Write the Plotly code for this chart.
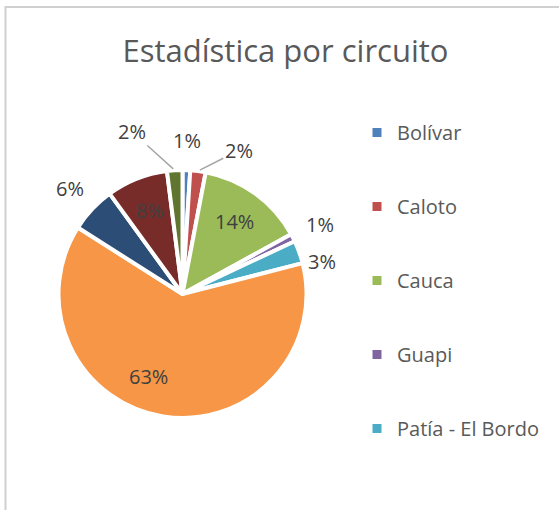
import math
import plotly.graph_objects as go

labels = ["Bolívar", "Caloto", "Cauca", "Guapi", "Patía - El Bordo",
          "Popayán", "Puerto Tejada", "Santander de Quilichao", "Silvia"]
values = [1, 2, 14, 1, 3, 63, 6, 8, 2]
colors = ["#4F81BD", "#C0504D", "#9BBB59", "#8064A2", "#4BACC6",
          "#F79646", "#2C4D75", "#772C2A", "#5F7530"]
label_inside = [False, False, True, False, False, True, False, True, False]
legend_count = 5  # the legend box only shows the first five circuits

# layout / styling (pixel based)
W, H = 559, 510
FONT = "Open Sans"
cx, cy, r = 182.5, 294, 124
inside_factor, outside_factor = 0.72, 1.24
# extra label displacement (pixels) for crowded labels, and which get leader lines
label_nudge = {1: (37, 9), 4: (-5, 20), 5: (-20, -6), 8: (-41, -9)}
leader_lines = {1, 8}

fig = go.Figure()

fig.add_trace(go.Pie(
    labels=labels, values=values, sort=False, direction="clockwise", rotation=0,
    marker=dict(colors=colors, line=dict(color="white", width=4)),
    textinfo="none", showlegend=False, hoverinfo="label+percent",
    domain=dict(x=[(cx - r) / W, (cx + r) / W], y=[(H - cy - r) / H, (H - cy + r) / H]),
))

# data labels positioned from the slice angles
total = sum(values)
cum = 0
annotations = []
for i, v in enumerate(values):
    mid = (cum + v / 2) / total * 2 * math.pi
    cum += v
    f = inside_factor if label_inside[i] else outside_factor
    dx, dy = label_nudge.get(i, (0, 0))
    lx = cx + f * r * math.sin(mid) + dx
    ly = cy - f * r * math.cos(mid) + dy
    txt = f"{round(v / total * 100)}%"
    font = dict(family=FONT, size=20, color="#404040")
    if i in leader_lines:
        ex = cx + r * math.sin(mid)
        ey = cy - r * math.cos(mid)
        annotations.append(dict(
            x=ex / W, y=1 - ey / H, xref="paper", yref="paper",
            ax=lx - ex, ay=ly - ey, axref="pixel", ayref="pixel",
            text=txt, font=font, showarrow=True, arrowhead=0,
            arrowwidth=1.5, arrowcolor="#A6A6A6", standoff=2, startstandoff=0))
    else:
        annotations.append(dict(
            x=lx / W, y=1 - ly / H, xref="paper", yref="paper",
            text=txt, font=font, showarrow=False,
            xanchor="center", yanchor="middle"))

for i in range(legend_count):
    fig.add_trace(go.Scatter(
        x=[None], y=[None], mode="markers", name=labels[i],
        marker=dict(symbol="square", size=9, color=colors[i]),
        legendgroup=labels[i], showlegend=True,
    ))

border = dict(color="#D0D0D0", width=2)
fig.update_layout(
    width=W, height=H,
    margin=dict(l=0, r=0, t=0, b=0),
    paper_bgcolor="white", plot_bgcolor="rgba(0,0,0,0)",
    title=dict(text="Estadística por circuito", x=285.5 / W, xanchor="center",
               y=1 - 51 / H, yanchor="middle",
               font=dict(family=FONT, size=31, color="#595959")),
    xaxis=dict(visible=False), yaxis=dict(visible=False),
    legend=dict(x=357 / W, y=1 - 113 / H, xanchor="left", yanchor="top",
                font=dict(family=FONT, size=20, color="#595959"),
                tracegroupgap=45, traceorder="grouped", itemsizing="trace",
                itemwidth=30, bgcolor="rgba(0,0,0,0)"),
    annotations=annotations,
    shapes=[
        dict(type="line", xref="paper", yref="paper",
             x0=5.5 / W, x1=5.5 / W, y0=0, y1=1 - 6 / H, line=border, layer="above"),
        dict(type="line", xref="paper", yref="paper",
             x0=5.5 / W, x1=1, y0=1 - 7 / H, y1=1 - 7 / H, line=border, layer="above"),
    ],
)

fig.write_html("out.html", config={"displayModeBar": False},
               post_script="document.body.style.margin='0';")
